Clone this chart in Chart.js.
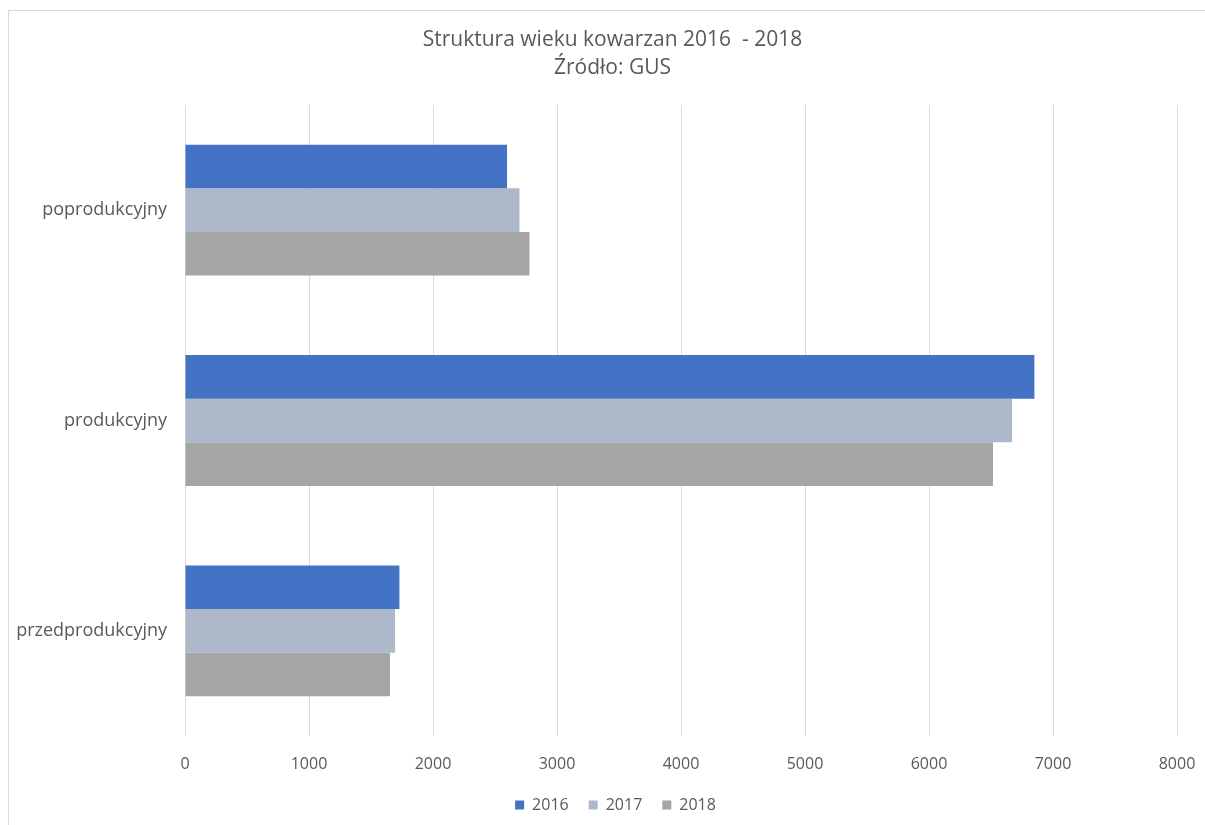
<!DOCTYPE html>
<html>
<head>
<meta charset="utf-8">
<script src="https://cdn.jsdelivr.net/npm/chart.js@4.4.1/dist/chart.umd.min.js"></script>
<style>
  html, body { margin: 0; padding: 0; background: #fff; overflow: hidden; }
  #frame { position: absolute; left: 8px; top: 10px; width: 1400px; height: 1000px; border: 1px solid #d9d9d9; box-sizing: border-box; }
  #wrap { position: absolute; left: 0; top: 0; width: 1205px; height: 825px; }
</style>
</head>
<body>
<div id="frame"></div>
<div id="wrap"><canvas id="c" width="1205" height="825"></canvas></div>
<script>
const titleLines = ['Struktura wieku kowarzan 2016  - 2018', 'Źródło: GUS'];
const categories = ['poprodukcyjny', 'produkcyjny', 'przedprodukcyjny'];
const seriesNames = ['2016', '2017', '2018'];
const values2016 = [2597, 6850, 1729];
const values2017 = [2697, 6670, 1694];
const values2018 = [2778, 6516, 1653];
const xTicks = [0, 1000, 2000, 3000, 4000, 5000, 6000, 7000, 8000];
const colors = ['#4472C4', '#ADB9CA', '#A5A5A5'];

const FONT = "'Open Sans', 'Noto Sans', sans-serif";
const TXT = '#595959';

// nudges the title and legend so they centre on the whole chart frame
const centerShift = {
  id: 'centerShift',
  afterLayout(chart) {
    const l = chart.legend;
    if (l) { l.left += 13; l.right += 13; }
    const t = chart.titleBlock;
    if (t) { t.left += 10; t.right += 10; }
  }
};

new Chart(document.getElementById('c'), {
  type: 'bar',
  data: {
    labels: categories,
    datasets: [values2016, values2017, values2018].map((v, i) => ({
      label: seriesNames[i],
      data: v,
      backgroundColor: colors[i],
      borderWidth: 0,
      barPercentage: 1,
      categoryPercentage: 0.622
    }))
  },
  plugins: [centerShift],
  options: {
    indexAxis: 'y',
    responsive: false,
    animation: false,
    devicePixelRatio: 1,
    layout: { padding: { left: 0, right: 0, top: 12, bottom: 2 } },
    plugins: {
      title: {
        display: true,
        text: titleLines,
        color: TXT,
        font: { family: FONT, size: 21, weight: 'normal', lineHeight: 1.333 },
        padding: { top: 14, bottom: 23 }
      },
      legend: {
        position: 'bottom',
        labels: {
          color: TXT,
          font: { family: FONT, size: 16 },
          boxWidth: 9,
          boxHeight: 9,
          padding: 20
        }
      },
      tooltip: { enabled: false }
    },
    scales: {
      x: {
        min: xTicks[0],
        max: xTicks[xTicks.length - 1],
        afterBuildTicks: (s) => { s.ticks = xTicks.map(v => ({ value: v })); },
        ticks: { color: TXT, font: { family: FONT, size: 16 }, padding: 19, callback: (v) => String(v) },
        grid: { color: '#D9D9D9', lineWidth: 1, drawTicks: false },
        border: { display: false },
        afterFit: (s) => { s.height = 41; s.paddingLeft = 0; s.paddingRight = 28; }
      },
      y: {
        ticks: { color: TXT, font: { family: FONT, size: 18 }, padding: 18 },
        grid: { display: false, drawTicks: false },
        border: { display: false },
        afterFit: (s) => { s.width = 185; s.paddingTop = 0; s.paddingBottom = 0; }
      }
    }
  }
});
</script>
</body>
</html>
